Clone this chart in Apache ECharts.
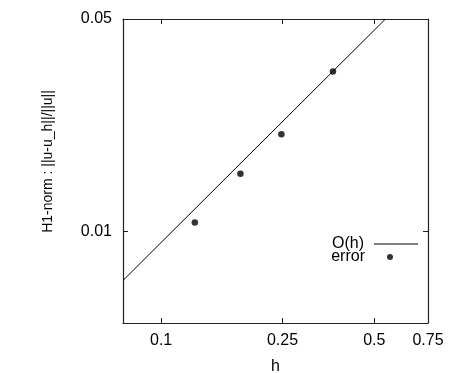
<!DOCTYPE html>
<html>
<head>
<meta charset="utf-8">
<script src="https://cdn.jsdelivr.net/npm/echarts@6/dist/echarts.min.js"></script>
<style>html,body{margin:0;padding:0;background:#fff}#c{width:474px;height:373px}</style>
</head>
<body>
<div id="c"></div>
<script>
var hValues = [0.129, 0.182, 0.248, 0.366];
var errValues = [0.0107, 0.0155, 0.0209, 0.0336];
var refLineH = [0.075, 0.544];
var refLineErr = [0.0069, 0.05];
var xTicks = [0.1, 0.25, 0.5, 0.75];
var yTicks = [0.01, 0.05];
var xRange = [0.075, 0.75];
var yRange = [0.005, 0.05];

var FONT = 'Liberation Sans';
var AX = '#222';
function fmt(v){ return String(parseFloat(Number(v).toPrecision(6))); }

function xAx(pos, showLabels){
  return {
    type: 'log', position: pos, min: xRange[0], max: xRange[1],
    name: showLabels ? 'h' : '', nameLocation: 'middle', nameGap: 36,
    nameTextStyle: {fontFamily: FONT, fontSize: 16, color: '#000'},
    axisLine: {show: true, lineStyle: {color: AX, width: 1.2}},
    axisTick: {show: true, inside: true, length: 5, customValues: xTicks, lineStyle: {color: AX}},
    axisLabel: {show: showLabels, customValues: xTicks, margin: 10, formatter: fmt,
      fontFamily: FONT, fontSize: 16, color: '#000'},
    splitLine: {show: false}, minorTick: {show: false}
  };
}
function yAx(pos, showLabels){
  return {
    type: 'log', position: pos, min: yRange[0], max: yRange[1],
    name: showLabels ? 'H1-norm : ||u-u_h||/||u||' : '', nameLocation: 'middle', nameGap: 68,
    nameTextStyle: {fontFamily: FONT, fontSize: 14, color: '#000', padding: [0, 0, 0, 19]},
    axisLine: {show: true, lineStyle: {color: AX, width: 1.2}},
    axisTick: {show: true, inside: true, length: 5, customValues: yTicks, lineStyle: {color: AX}},
    axisLabel: {show: showLabels, customValues: yTicks, margin: 11, formatter: fmt,
      fontFamily: FONT, fontSize: 16, color: '#000'},
    splitLine: {show: false}, minorTick: {show: false}
  };
}

var chart = echarts.init(document.getElementById('c'), null, {renderer: 'canvas'});
chart.setOption({
  animation: false,
  backgroundColor: '#fff',
  grid: {left: 123, right: 46, top: 19, bottom: 50, containLabel: false, outerBoundsMode: 'none'},
  xAxis: [xAx('bottom', true), xAx('top', false)],
  yAxis: [yAx('left', true), yAx('right', false)],
  legend: [
    {
      align: 'right', right: 51, top: 231,
      itemWidth: 44, itemHeight: 1, icon: 'rect',
      textStyle: {fontFamily: FONT, fontSize: 16, color: '#000', padding: [0, 5, 0, 0]},
      data: ['O(h)']
    },
    {
      align: 'right', right: 76, top: 244,
      itemWidth: 6, itemHeight: 6, icon: 'circle',
      textStyle: {fontFamily: FONT, fontSize: 16, color: '#000', padding: [0, 17, 0, 0]},
      data: ['error']
    }
  ],
  series: [
    {
      name: 'O(h)', type: 'line', showSymbol: false, symbol: 'none', clip: true,
      lineStyle: {color: '#000', width: 1}, itemStyle: {color: '#000'},
      data: refLineH.map(function(h, i){ return [h, refLineErr[i]]; })
    },
    {
      name: 'error', type: 'scatter', symbol: 'circle', symbolSize: 6.5,
      itemStyle: {color: '#000'},
      data: hValues.map(function(h, i){ return [h, errValues[i]]; })
    }
  ]
});
</script>
</body>
</html>
